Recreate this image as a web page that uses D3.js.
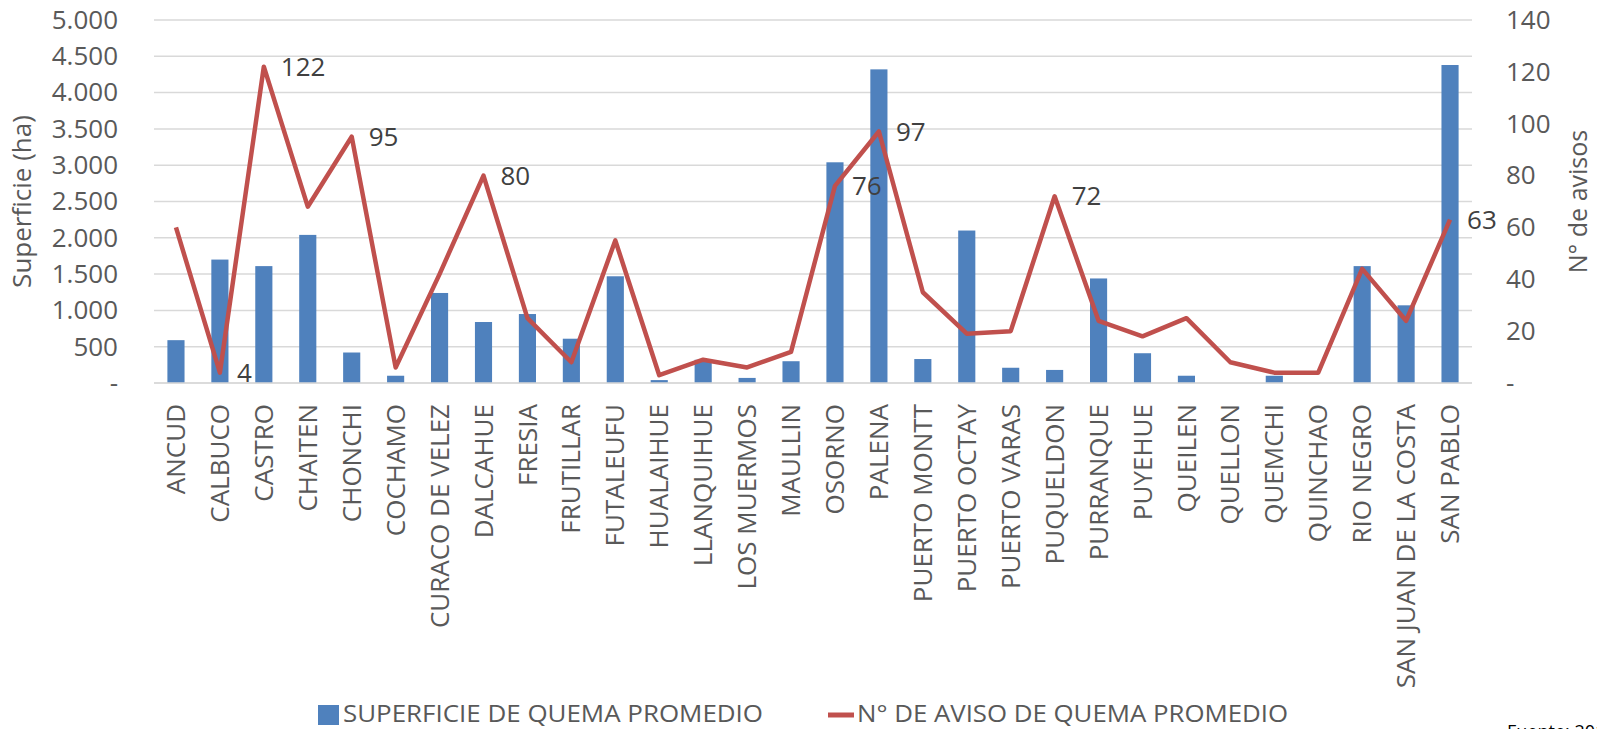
<!DOCTYPE html>
<html>
<head>
<meta charset="utf-8">
<script src="https://cdn.jsdelivr.net/npm/d3@7"></script>
<style>
  body { margin: 0; background: #fff; }
  svg { display: block; font-family: "Open Sans", sans-serif; }
</style>
</head>
<body>
<div id="chart"></div>
<script>
const comunas = ['ANCUD', 'CALBUCO', 'CASTRO', 'CHAITEN', 'CHONCHI', 'COCHAMO', 'CURACO DE VELEZ',
  'DALCAHUE', 'FRESIA', 'FRUTILLAR', 'FUTALEUFU', 'HUALAIHUE', 'LLANQUIHUE', 'LOS MUERMOS',
  'MAULLIN', 'OSORNO', 'PALENA', 'PUERTO MONTT', 'PUERTO OCTAY', 'PUERTO VARAS', 'PUQUELDON',
  'PURRANQUE', 'PUYEHUE', 'QUEILEN', 'QUELLON', 'QUEMCHI', 'QUINCHAO', 'RIO NEGRO',
  'SAN JUAN DE LA COSTA', 'SAN PABLO']

// superficie de quema promedio (ha)
const superficie = [590, 1700, 1610, 2040, 420, 100, 1240, 840, 950, 610, 1470, 40, 320, 70,
  300, 3040, 4320, 330, 2100, 210, 180, 1440, 410, 100, 0, 100, 0, 1610, 1070, 4380]

// n° de aviso de quema promedio
const avisos = [60, 4, 122, 68, 95, 6, 42, 80, 25, 8, 55, 3, 9, 6, 12, 76, 97, 35, 19, 20,
  72, 24, 18, 25, 8, 4, 4, 44, 24, 63]

// only these points carry a value label
const etiquetas = ['CALBUCO', 'CASTRO', 'CHONCHI', 'DALCAHUE', 'OSORNO', 'PALENA', 'PUQUELDON', 'SAN PABLO']

const ticksIzq = [0, 500, 1000, 1500, 2000, 2500, 3000, 3500, 4000, 4500, 5000]
const ticksDer = [0, 20, 40, 60, 80, 100, 120, 140]

const W = 1597, H = 729
const mLeft = 154, mRight = 1472, mTop = 20, mBottom = 383

const svg = d3.select('#chart').append('svg')
  .attr('width', W)
  .attr('height', H)

const x = d3.scaleBand().domain(comunas).range([mLeft, mRight])
  .paddingInner(0.61).paddingOuter(0.305)
const y = d3.scaleLinear().domain([0, 5000]).range([mBottom, mTop])
const y2 = d3.scaleLinear().domain([0, 140]).range([mBottom, mTop])

const fmt = d => d === 0 ? '-' : d3.format(',')(d).replace(/,/g, '.')

// gridlines
svg.append('g')
  .selectAll('line')
  .data(ticksIzq)
  .join('line')
  .attr('x1', mLeft).attr('x2', mRight)
  .attr('y1', d => y(d)).attr('y2', d => y(d))
  .attr('stroke', '#d9d9d9')
  .attr('stroke-width', 1.5)

// left axis
const axisL = svg.append('g')
  .attr('transform', `translate(${mLeft - 36},0)`)
  .call(d3.axisLeft(y).tickValues(ticksIzq).tickFormat(fmt).tickSize(0).tickPadding(0))
axisL.select('.domain').remove()
axisL.selectAll('text')
  .attr('fill', '#595959')
  .style('font-size', '26px')
  .style('font-family', '"Open Sans", sans-serif')

// right axis
const axisR = svg.append('g')
  .attr('transform', `translate(${mRight + 34},0)`)
  .call(d3.axisRight(y2).tickValues(ticksDer).tickFormat(fmt).tickSize(0).tickPadding(0))
axisR.select('.domain').remove()
axisR.selectAll('text')
  .attr('fill', '#595959')
  .style('font-size', '26px')
  .style('font-family', '"Open Sans", sans-serif')

// bars
svg.append('g')
  .selectAll('rect')
  .data(comunas)
  .join('rect')
  .attr('x', d => x(d))
  .attr('width', x.bandwidth())
  .attr('y', (d, i) => y(superficie[i]))
  .attr('height', (d, i) => y(0) - y(superficie[i]))
  .attr('fill', '#4f81bd')

// x axis
const axisX = svg.append('g')
  .attr('transform', `translate(0,${mBottom})`)
  .call(d3.axisBottom(x).tickSize(0).tickPadding(0))
axisX.select('.domain')
  .attr('stroke', '#d9d9d9')
  .attr('stroke-width', 1.5)
  .attr('d', `M${mLeft},0H${mRight}`)
axisX.selectAll('text')
  .attr('fill', '#595959')
  .style('font-size', '26px')
  .style('font-family', '"Open Sans", sans-serif')
  .attr('text-anchor', 'end')
  .attr('dy', '0.35em')
  .attr('y', 0)
  .attr('transform', 'translate(0,21) rotate(-90)')

// line
const cx = d => x(d) + x.bandwidth() / 2
const createPath = d3.line()
  .x(d => cx(d))
  .y((d, i) => y2(avisos[i]))

svg.append('path')
  .attr('d', createPath(comunas))
  .attr('fill', 'none')
  .attr('stroke', '#c0504d')
  .attr('stroke-width', 4.5)
  .attr('stroke-linejoin', 'round')

// data labels
svg.append('g')
  .selectAll('text')
  .data(comunas.filter(d => etiquetas.includes(d)))
  .join('text')
  .attr('x', d => cx(d) + 17)
  .attr('y', d => y2(avisos[comunas.indexOf(d)]))
  .attr('dy', '0.35em')
  .attr('fill', '#404040')
  .style('font-size', '26px')
  .text(d => avisos[comunas.indexOf(d)])

// axis titles
svg.append('text')
  .attr('transform', `translate(31,${(mTop + mBottom) / 2}) rotate(-90)`)
  .attr('text-anchor', 'middle')
  .attr('fill', '#595959')
  .style('font-size', '26px')
  .text('Superficie (ha)')

svg.append('text')
  .attr('transform', `translate(1587,${(mTop + mBottom) / 2}) rotate(-90)`)
  .attr('text-anchor', 'middle')
  .attr('fill', '#595959')
  .style('font-size', '25px')
  .text('N° de avisos')

// legend
const legend = svg.append('g')
legend.append('rect')
  .attr('x', 318).attr('y', 705)
  .attr('width', 21).attr('height', 20)
  .attr('fill', '#4f81bd')
legend.append('text')
  .attr('x', 343).attr('y', 722)
  .attr('fill', '#595959')
  .style('font-size', '24px')
  .attr('textLength', 420)
  .attr('lengthAdjust', 'spacingAndGlyphs')
  .text('SUPERFICIE DE QUEMA PROMEDIO')
legend.append('line')
  .attr('x1', 828).attr('x2', 854)
  .attr('y1', 715).attr('y2', 715)
  .attr('stroke', '#c0504d')
  .attr('stroke-width', 5)
legend.append('text')
  .attr('x', 857).attr('y', 722)
  .attr('fill', '#595959')
  .style('font-size', '24px')
  .attr('textLength', 431)
  .attr('lengthAdjust', 'spacingAndGlyphs')
  .text('N° DE AVISO DE QUEMA PROMEDIO')

// source note, clipped by the bottom edge as in the original
svg.append('text')
  .attr('x', 1507).attr('y', 738)
  .attr('fill', '#000')
  .style('font-size', '18px')
  .text('Fuente: 2019')
</script>
</body>
</html>
